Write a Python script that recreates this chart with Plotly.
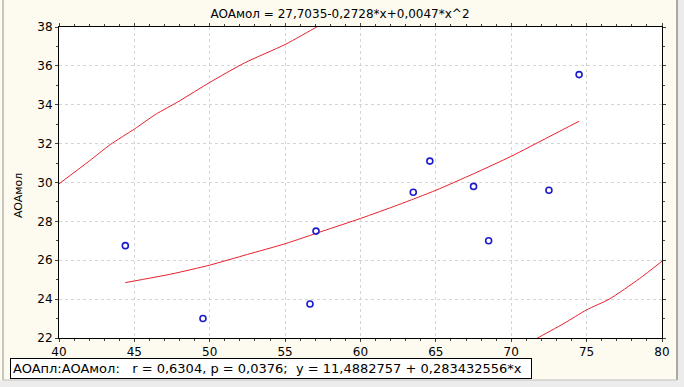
import plotly.graph_objects as go

# Data
x_points = [44.4, 49.55, 56.65, 57.05, 63.5, 64.6, 67.5, 68.5, 72.5, 74.5]
y_points = [26.75, 23.0, 23.75, 27.5, 29.5, 31.1, 29.8, 27.0, 29.6, 35.55]

fit_x = [44.4, 47.5, 50, 52.5, 55, 57.5, 60, 62.5, 65, 67.5, 70, 72.5, 74.5]
fit_y = [24.85, 25.3, 25.75, 26.3, 26.85, 27.5, 28.15, 28.85, 29.6, 30.45, 31.35, 32.35, 33.15]

upper_x = [40, 42, 43.4, 45, 46.4, 48, 50, 52.3, 55, 57.1, 58]
upper_y = [29.93, 31.1, 31.95, 32.75, 33.5, 34.2, 35.15, 36.15, 37.1, 38.0, 38.35]

lower_x = [71.0, 71.75, 73.5, 75, 76.5, 78.5, 80]
lower_y = [21.65, 22.0, 22.75, 23.45, 24.0, 25.05, 25.95]

x_ticks = [40, 45, 50, 55, 60, 65, 70, 75, 80]
y_ticks = [22, 24, 26, 28, 30, 32, 34, 36, 38]

title_text = "AOAмол = 27,7035-0,2728*x+0,0047*x^2"
y_title = "AOAмол"
legend_text = "AOAпл:AOAмол:   r = 0,6304, p = 0,0376;  y = 11,4882757 + 0,283432556*x"

RED = "#e8202a"
FONT = "DejaVu Sans, Verdana, sans-serif"

fig = go.Figure()
for xs, ys in [(upper_x, upper_y), (lower_x, lower_y), (fit_x, fit_y)]:
    fig.add_trace(go.Scatter(x=xs, y=ys, mode="lines",
                             line=dict(color=RED, width=1, shape="spline",
                                       smoothing=0.6),
                             showlegend=False, hoverinfo="skip"))
fig.add_trace(go.Scatter(x=x_points, y=y_points, mode="markers",
                         marker=dict(symbol="circle-open", size=6,
                                     color="#1a1ad0", line=dict(width=1.6)),
                         showlegend=False))

L, R, T, B = 59, 22, 27, 49
W, H = 684, 387
pw, ph = W - L - R, H - T - B


def px(x):
    return (x - L) / pw


def py(y):
    return (H - B - y) / ph


fig.update_layout(
    width=W, height=H,
    margin=dict(l=L, r=R, t=T, b=B),
    paper_bgcolor="#fdfaf0",
    plot_bgcolor="white",
    font=dict(family=FONT, size=11, color="black"),
    title=dict(text=title_text, x=340 / W, xanchor="center",
               y=1 - 14 / H, yanchor="middle",
               font=dict(size=12, family=FONT)),
    showlegend=False,
)
fig.update_xaxes(range=[40, 80], tickvals=x_ticks, ticks="outside", ticklen=3,
                 showline=True, linecolor="black", linewidth=1, mirror="ticks",
                 showgrid=True, gridcolor="#d4d4d4", griddash="dot", gridwidth=1,
                 zeroline=False, minor=dict(dtick=1, ticks="outside", ticklen=2,
                                            showgrid=False),
                 tickfont=dict(size=12))
fig.update_yaxes(range=[22, 38], tickvals=y_ticks, ticks="outside", ticklen=3,
                 showline=True, linecolor="black", linewidth=1, mirror="ticks",
                 showgrid=True, gridcolor="#d4d4d4", griddash="dot", gridwidth=1,
                 zeroline=False, minor=dict(dtick=1, ticks="outside", ticklen=2,
                                            showgrid=False),
                 tickfont=dict(size=12))

# y-axis title
fig.add_annotation(text=y_title, xref="paper", yref="paper", x=px(18), y=py(196),
                   textangle=-90, showarrow=False, font=dict(size=11),
                   xanchor="center", yanchor="middle")

# legend box at bottom
fig.add_annotation(text=legend_text, xref="paper", yref="paper",
                   x=px(10), y=py(368), xanchor="left", yanchor="middle",
                   showarrow=False, font=dict(size=13),
                   bordercolor="black", borderwidth=1, borderpad=2,
                   bgcolor="white", width=516, align="left")

# window borders
fig.add_shape(type="rect", xref="paper", yref="paper",
              x0=px(0), x1=px(684), y0=py(380), y1=py(387),
              fillcolor="#ececec", line=dict(width=0), layer="below")
fig.add_shape(type="rect", xref="paper", yref="paper",
              x0=px(677), x1=px(684), y0=py(0), y1=py(387),
              fillcolor="#ececec", line=dict(width=0), layer="below")
fig.add_shape(type="line", xref="paper", yref="paper",
              x0=px(3), x1=px(3), y0=py(0), y1=py(380),
              line=dict(color="#909090", width=1))
fig.add_shape(type="line", xref="paper", yref="paper",
              x0=px(677), x1=px(677), y0=py(0), y1=py(380),
              line=dict(color="#909090", width=1.5))
fig.add_shape(type="line", xref="paper", yref="paper",
              x0=px(3), x1=px(677), y0=py(380), y1=py(380),
              line=dict(color="#c0c0c0", width=1))

fig.write_html("out.html", config={"displayModeBar": False},
               post_script="document.body.style.margin='0';"
                           "document.body.style.overflow='hidden';")
